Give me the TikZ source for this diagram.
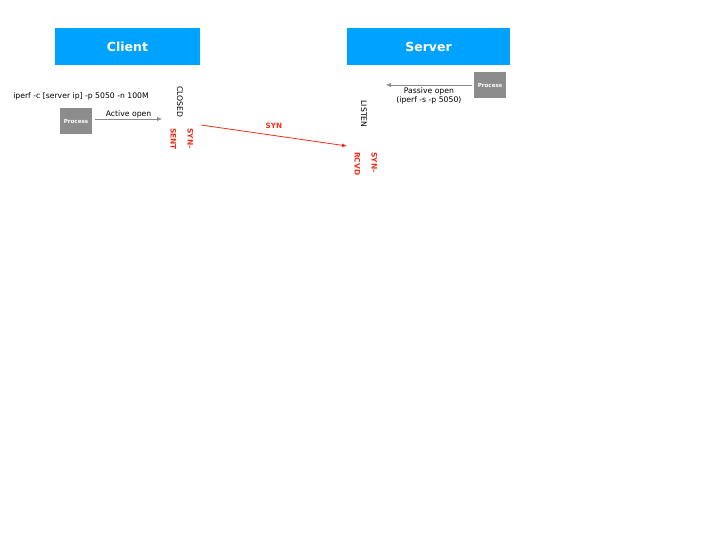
\documentclass[tikz,border=0pt]{standalone}
\usepackage{fontspec}
\setmainfont{DejaVu Sans}
\usepackage{tikz}
\usetikzlibrary{arrows.meta,positioning,calc}
\definecolor{headblue}{HTML}{00A2FF}
\definecolor{procgray}{HTML}{8C8C8C}
\definecolor{synred}{HTML}{F0301C}

\begin{document}
\begin{tikzpicture}[x=1pt,y=-1pt,
  header/.style={fill=headblue,text=white,font=\bfseries\fontsize{12.5}{12.5}\selectfont,inner sep=0pt},
  procbox/.style={fill=procgray,text=white,font=\bfseries\fontsize{5.6}{6}\selectfont,minimum width=32pt,minimum height=26pt,inner sep=0pt},
  small/.style={font=\fontsize{7.7}{9}\selectfont,inner sep=1pt},
  statelbl/.style={font=\fontsize{7.7}{9}\selectfont,rotate=-90,inner sep=0pt},
  redstate/.style={font=\bfseries\fontsize{7.5}{17}\selectfont,text=synred,rotate=-90,align=left,inner sep=0pt},
  openarrow/.style={draw=procgray,-{Latex[length=5pt,width=4pt]}},
  segarrow/.style={draw=synred,thick,-{Latex[length=5pt,width=4pt]}}]
\useasboundingbox (0,0) rectangle (720,540);
% headers
\node[header,minimum width=145pt,minimum height=37pt] (client) at (127.5,46.5) {Client};
\node[header,minimum width=163pt,minimum height=37pt] (server) at (428.5,46.5) {Server};
% client side
\node[small] (cmd) at (81,96) {iperf -c [server ip] -p 5050 -n 100M};
\node[procbox] (cproc) at (76,121) {Process};
\coordinate (cact) at (162,119);
\draw[openarrow] (cproc.east) ++(3,-2) coordinate (cstart) -- (cact);
\node[small,above=0pt of $(cstart)!0.5!(cact)$] (actlbl) {Active open};
\node[statelbl] (closed) at (180,102) {CLOSED};
\node[redstate,anchor=north west] (synsent) at (193.5,128) {SYN-\\SENT};
% server side
\node[procbox] (sproc) at (490,85) {Process};
\coordinate (spas) at (386,85);
\draw[openarrow] (sproc.west) ++(-2,0) coordinate (sstart) -- (spas);
\node[small,align=center,below=1pt of $(sstart)!0.5!(spas)$] (paslbl) {Passive open\\(iperf -s -p 5050)};
\node[statelbl] (listen) at (364,114) {LISTEN};
\node[redstate,anchor=north west] (synrcvd) at (377.5,152) {SYN-\\RCVD};
% segment
\coordinate (synfrom) at (201,125);
\coordinate (synto) at (347,146);
\draw[segarrow] (synfrom) -- (synto);
\node[font=\bfseries\fontsize{7.3}{9}\selectfont,text=synred] (synlbl) at (274,126) {SYN};
\end{tikzpicture}
\end{document}
